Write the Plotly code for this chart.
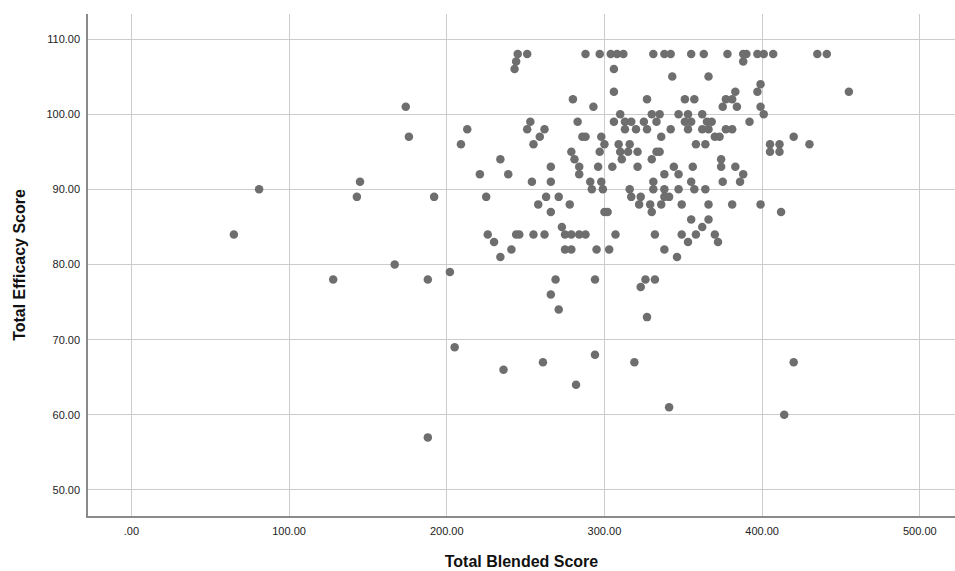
import plotly.graph_objects as go

blended = [65, 81, 128, 143, 145, 167, 174, 176, 188, 192, 188, 202, 205, 209, 213, 221, 225, 226, 230, 234,
           234, 236, 239, 241, 243, 244, 245, 251, 244, 246, 251, 253, 254, 255, 255, 259, 262, 262, 263, 258,
           261, 266, 266, 266, 266, 269, 271, 271, 273, 275, 275, 278, 279, 279, 279, 280, 281, 282, 283, 284,
           284, 284, 286, 288, 288, 288, 291, 292, 293, 294, 294, 295, 296, 297, 297, 298, 298, 299, 300, 300,
           302, 303, 305, 306, 306, 306, 304, 308, 312, 307, 309, 310, 310, 311, 313, 313, 315, 316, 316, 317,
           317, 319, 320, 321, 321, 322, 323, 323, 325, 326, 327, 327, 327, 329, 330, 330, 330, 331, 331, 331,
           332, 332, 333, 333, 335, 335, 336, 336, 338, 338, 338, 338, 338, 341, 341, 342, 342, 343, 344, 346,
           347, 347, 347, 349, 349, 351, 351, 353, 353, 353, 355, 355, 355, 355, 356, 357, 357, 358, 358, 362,
           362, 362, 363, 364, 364, 365, 366, 366, 366, 368, 366, 370, 370, 372, 373, 374, 374, 375, 375, 377,
           377, 378, 381, 381, 381, 383, 383, 384, 386, 388, 388, 390, 388, 392, 397, 397, 399, 399, 399, 401,
           401, 405, 405, 407, 411, 411, 412, 414, 420, 420, 430, 435, 441, 455]
efficacy = [84, 90, 78, 89, 91, 80, 101, 97, 78, 89, 57, 79, 69, 96, 98, 92, 89, 84, 83, 81,
            94, 66, 92, 82, 106, 107, 108, 108, 84, 84, 98, 99, 91, 96, 84, 97, 98, 84, 89, 88,
            67, 93, 91, 87, 76, 78, 74, 89, 85, 84, 82, 88, 95, 84, 82, 102, 94, 64, 99, 92,
            93, 84, 97, 97, 108, 84, 91, 90, 101, 68, 78, 82, 93, 108, 95, 97, 91, 90, 96, 87,
            87, 82, 93, 106, 103, 99, 108, 108, 108, 84, 96, 100, 95, 94, 99, 98, 95, 96, 90, 99,
            89, 67, 98, 95, 93, 88, 89, 77, 99, 78, 102, 98, 73, 88, 100, 94, 87, 108, 91, 90,
            84, 78, 99, 95, 100, 95, 88, 97, 108, 92, 90, 89, 82, 89, 61, 108, 98, 105, 93, 81,
            100, 90, 92, 88, 84, 102, 99, 100, 98, 83, 108, 99, 91, 86, 93, 102, 90, 96, 84, 100,
            98, 85, 108, 96, 90, 99, 105, 88, 86, 99, 98, 97, 84, 83, 97, 94, 93, 91, 101, 102,
            98, 108, 102, 98, 88, 103, 93, 101, 91, 108, 107, 108, 92, 99, 108, 103, 104, 101, 88, 108,
            100, 96, 95, 108, 96, 95, 87, 60, 97, 67, 96, 108, 108, 103]

x_tickvals = [0, 100, 200, 300, 400, 500]
x_ticktext = [".00", "100.00", "200.00", "300.00", "400.00", "500.00"]
y_tickvals = [50, 60, 70, 80, 90, 100, 110]
y_ticktext = ["50.00", "60.00", "70.00", "80.00", "90.00", "100.00", "110.00"]

fig = go.Figure(go.Scatter(
    x=blended, y=efficacy, mode="markers",
    marker=dict(size=8.5, color="#6e6e6e", line=dict(width=0)),
    hoverinfo="x+y",
))

font_family = "Liberation Sans, Arial, sans-serif"
fig.update_layout(
    width=955, height=571,
    margin=dict(l=88, r=0, t=14, b=55),
    paper_bgcolor="white", plot_bgcolor="white",
    showlegend=False,
    font=dict(family=font_family, size=11, color="#222222"),
    xaxis=dict(
        range=[-27.5, 522.3], tickvals=x_tickvals, ticktext=x_ticktext,
        showgrid=True, gridcolor="#cccccc", gridwidth=1,
        showline=True, linecolor="#8a8a8a", linewidth=1.5,
        zeroline=False, ticks="outside", ticklen=4, tickcolor="rgba(0,0,0,0)",
        tickfont=dict(size=11, color="#222222"),
        automargin=False,
        title=dict(text="<b>Total Blended Score</b>", font=dict(size=16, color="#111111"), standoff=20),
    ),
    yaxis=dict(
        range=[46.54, 113.33], tickvals=y_tickvals, ticktext=y_ticktext,
        showgrid=True, gridcolor="#cccccc", gridwidth=1,
        showline=True, linecolor="#8a8a8a", linewidth=1.5,
        zeroline=False, ticks="outside", ticklen=4, tickcolor="rgba(0,0,0,0)",
        tickfont=dict(size=11, color="#222222"),
        automargin=False,
        title=dict(text="<b>Total Efficacy Score</b>", font=dict(size=16, color="#111111"), standoff=17),
    ),
)

fig.write_html("out.html", config={"displayModeBar": False},
               post_script="document.body.style.margin='0';document.body.style.overflow='hidden';")
